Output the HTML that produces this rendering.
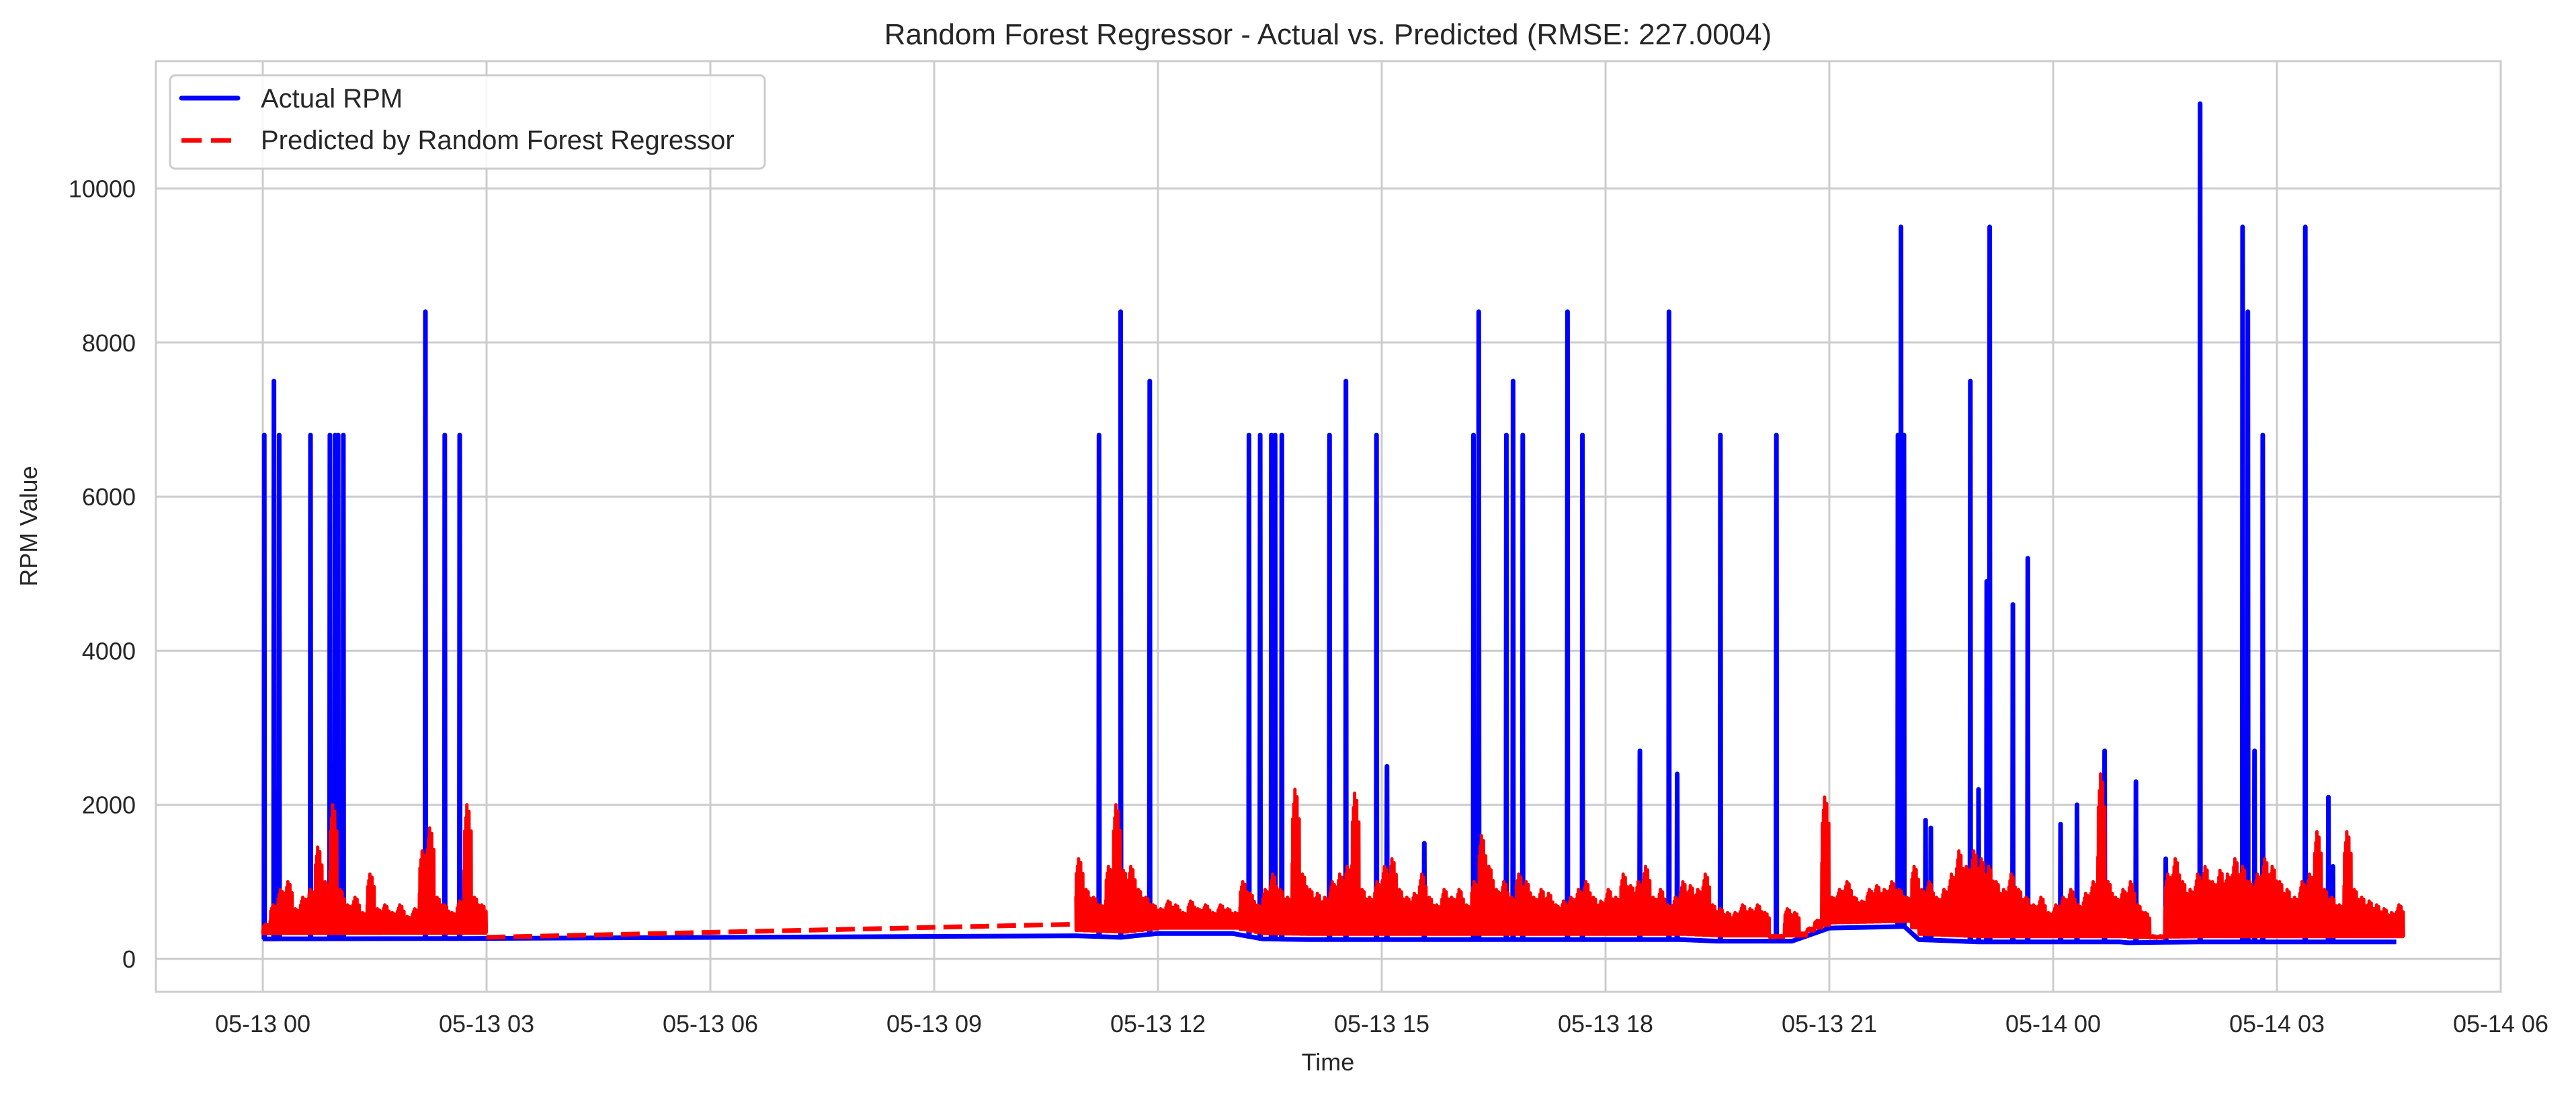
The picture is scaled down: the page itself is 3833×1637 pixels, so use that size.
<!DOCTYPE html>
<html><head><meta charset="utf-8"><style>
body{margin:0;background:#fff}
svg{display:block}
text{font-family:"Liberation Sans","Noto Sans CJK KR",sans-serif;fill:#262626}
</style></head><body>
<svg id="chart" width="3833" height="1637" viewBox="0 0 3833 1637" xmlns="http://www.w3.org/2000/svg">
<rect x="0" y="0" width="3833" height="1637" fill="#fff"/>
<text x="1976" y="66" font-size="44" text-anchor="middle">Random Forest Regressor - Actual vs. Predicted (RMSE: 227.0004)</text>
<g id="grid"></g>
<rect x="232" y="91" width="3489" height="1385" fill="none" stroke="#cccccc" stroke-width="3"/>
<g id="series"></g>
<g id="ticks"></g>
<text x="1976" y="1593" font-size="36" text-anchor="middle">Time</text>
<text transform="translate(55,783) rotate(-90)" font-size="36" text-anchor="middle">RPM Value</text>
<g>
<rect x="253" y="112" width="885" height="139" rx="8" fill="#fff" fill-opacity="0.85" stroke="#cccccc" stroke-width="3"/>
<line x1="270" y1="146" x2="354" y2="146" stroke="#0000ff" stroke-width="7" stroke-linecap="round"/>
<text x="388" y="160" font-size="40">Actual RPM</text>
<line x1="270" y1="209" x2="346" y2="209" stroke="#ff0000" stroke-width="7" stroke-dasharray="30,14"/>
<text x="388" y="222" font-size="40">Predicted by Random Forest Regressor</text>
</g>
</svg>
<script>
const xTickLabels=["05-13 00","05-13 03","05-13 06","05-13 09","05-13 12","05-13 15","05-13 18","05-13 21","05-14 00","05-14 03","05-14 06"];
const xTickHours=[0,3,6,9,12,15,18,21,24,27,30];
const yTickValues=[0,2000,4000,6000,8000,10000];
// actual baseline (hours, rpm)
const baseHours=[0,2.9,10.9,11.5,12,13,13.4,14,19,19.5,20.5,21,22,22.2,23,24.9,25,26,28.6];
const baseValues=[260,265,300,280,330,330,260,250,250,230,230,400,420,250,220,220,210,220,220];
// actual spikes
const spikeHours=[0.02,0.15,0.22,0.64,0.9,0.97,1.01,1.08,2.18,2.44,2.64,11.21,11.5,11.89,13.22,13.37,13.52,13.57,13.66,14.3,14.52,14.93,15.07,15.57,16.23,16.3,16.67,16.76,16.89,17.49,17.69,18.46,18.85,18.96,19.54,20.29,21.92,21.96,22.0,22.29,22.36,22.89,23.0,23.11,23.15,23.46,23.66,24.1,24.32,24.69,25.11,25.51,25.97,26.54,26.61,26.7,26.81,27.38,27.69,27.75];
const spikeValues=[6800,7500,6800,6800,6800,6800,6800,6800,8400,6800,6800,6800,8400,7500,6800,6800,6800,6800,6800,6800,7500,6800,2500,1500,6800,8400,6800,7500,6800,8400,6800,2700,8400,2400,6800,6800,6800,9500,6800,1800,1700,7500,2200,4900,9500,4600,5200,1750,2000,2700,2300,1300,11100,9500,8400,2700,6800,9500,2100,1200];
// predicted, 6-minute steps
const predStart1=0;
const predValues1=[450,700,900,1000,650,800,900,1450,1000,2000,900,700,800,600,1100,650,700,600,700,550,650,1400,1700,800,700,600,750,2000,800,700];
const predStart2=10.9;
const predValues2=[1300,900,800,700,1200,2000,1150,1200,900,800,
700,650,750,700,600,750,650,700,600,700,
650,600,1000,850,700,900,1100,900,800,2200,
1100,900,850,800,1000,1100,1200,2150,900,800,
1000,1200,1300,900,800,850,1100,800,700,900,
800,900,700,1000,1600,1200,900,1000,800,1100,
1000,800,900,850,700,750,800,900,1000,800,
750,900,800,1100,950,1000,1200,800,900,700,
800,1000,950,900,1100,700,650,600,600,700,
650,700,600,300,300,650,600,300,400,500,
2100,800,900,1000,800,750,900,950,900,1000,
900,800,1200,900,1000,800,900,1100,1400,1200,
1400,1300,1200,1000,900,1100,900,800,700,800,
600,700,800,900,700,850,1000,2400,1000,800,
900,1000,700,600,300,300,1100,1300,1000,900,
1100,1200,1000,1150,1100,1300,1200,1000,1100,1300,
1200,1000,900,800,1000,1100,1650,900,800,700,
1650,900,800,750,700,650,600,700];
const predStep=0.1;

const NS="http://www.w3.org/2000/svg";
const X0=391, XPH=111, Y0=1427, YPU=0.11465;
function xs(h){return X0+h*XPH;}
function ys(v){return Y0-v*YPU;}
function base(h){
  if(h<=baseHours[0])return baseValues[0];
  for(let i=1;i<baseHours.length;i++){if(h<=baseHours[i]){const f=(h-baseHours[i-1])/(baseHours[i]-baseHours[i-1]);return baseValues[i-1]+f*(baseValues[i]-baseValues[i-1]);}}
  return baseValues[baseValues.length-1];
}
function mk(tag,attrs,parent){const e=document.createElementNS(NS,tag);for(const k in attrs)e.setAttribute(k,attrs[k]);parent.appendChild(e);return e;}
const grid=document.getElementById('grid'),ticks=document.getElementById('ticks'),series=document.getElementById('series');
xTickHours.forEach((h,i)=>{
  const l=mk('line',{x1:xs(h),x2:xs(h),y1:91,y2:1476,stroke:'#cccccc','stroke-width':3},grid);
  
  
  const t=mk('text',{x:xs(h),y:1536,'font-size':36,'text-anchor':'middle'},ticks);
  t.textContent=xTickLabels[i];
  
  
});
yTickValues.forEach(v=>{
  const l=mk('line',{x1:232,x2:3721,y1:ys(v),y2:ys(v),stroke:'#cccccc','stroke-width':3},grid);
  
  
  const t=mk('text',{x:202,y:ys(v)+13,'font-size':36,'text-anchor':'end'},ticks);
  t.textContent=String(v);
  
  
});
// actual path
let pts=[];
baseHours.forEach((h,i)=>pts.push([h,baseValues[i]]));
spikeHours.forEach((h,i)=>{pts.push([h-0.005,base(h)]);pts.push([h,spikeValues[i]]);pts.push([h+0.005,base(h)]);});
pts.sort((a,b)=>a[0]-b[0]);
let d=pts.map((p,i)=>(i?'L':'M')+xs(p[0]).toFixed(1)+','+ys(p[1]).toFixed(1)).join('');
const act=mk('path',{d:d,fill:'none',stroke:'#0000ff','stroke-width':7,'stroke-linejoin':'round'},series);


// predicted: each sample rendered as a dense cluster of sub-spikes
const subFrac=[0.5,0.8,0.6,0.9,0.55,1.0,0.7,0.85,0.5,0.95,0.6,0.75,0.45,0.8];
function predPath(start,vals){
  let s='';
  vals.forEach((v,i)=>{
    const h=start+i*predStep, b=base(h)+30;
    subFrac.forEach((f,j)=>{
      const t=h+j*predStep/subFrac.length;
      s+=((i||j)?'L':'M')+xs(t).toFixed(1)+','+ys(b+(v-b)*f).toFixed(1);
      s+='L'+xs(t+predStep/subFrac.length/2).toFixed(1)+','+ys(b+40).toFixed(1);
    });
  });
  return s;
}
const p1=mk('path',{d:predPath(predStart1,predValues1),fill:'none',stroke:'#ff0000','stroke-width':5,'stroke-linejoin':'round'},series);


const e1=predStart1+predValues1.length*predStep;
const gap=mk('path',{d:'M'+xs(e1)+','+ys(280)+'L'+xs(predStart2)+','+ys(450),fill:'none',stroke:'#ff0000','stroke-width':7,'stroke-dasharray':'28,12'},series);


const p2=mk('path',{d:predPath(predStart2,predValues2),fill:'none',stroke:'#ff0000','stroke-width':5,'stroke-linejoin':'round'},series);


</script>
</body></html>
